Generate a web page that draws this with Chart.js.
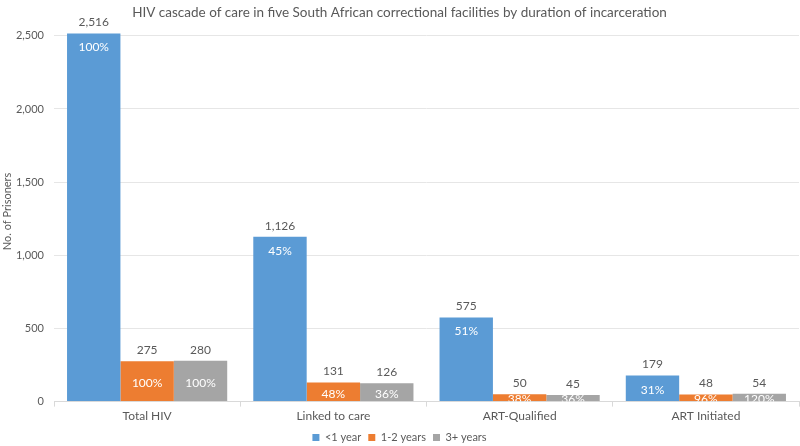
<!DOCTYPE html>
<html><head><meta charset="utf-8">
<script src="https://cdn.jsdelivr.net/npm/chart.js@4/dist/chart.umd.min.js"></script>
<style>html,body{margin:0;padding:0;background:#fff}#wrap{width:800px;height:446px}</style>
</head><body><div id="wrap"><canvas id="c"></canvas></div>
<script>
const categories = ["Total HIV", "Linked to care", "ART-Qualified", "ART Initiated"];
const seriesNames = ["<1 year", "1-2 years", "3+ years"];
const lessThan1 = [2516, 1126, 575, 179];
const oneToTwo = [275, 131, 50, 48];
const threePlus = [280, 126, 45, 54];
const pctLessThan1 = ["100%", "45%", "51%", "31%"];
const pctOneToTwo = ["100%", "48%", "38%", "96%"];
const pctThreePlus = ["100%", "36%", "36%", "120%"];
const yTicks = [0, 500, 1000, 1500, 2000, 2500];

const FONT = "Lato";
const colors = ["#5B9BD5", "#ED7D31", "#A5A5A5"];
const pcts = [pctLessThan1, pctOneToTwo, pctThreePlus];

const labelPlugin = {
  id: 'barLabels',
  afterDatasetsDraw(chart) {
    const ctx = chart.ctx;
    const area = chart.chartArea;
    chart.data.datasets.forEach((ds, di) => {
      const meta = chart.getDatasetMeta(di);
      meta.data.forEach((bar, i) => {
        const v = ds.data[i];
        ctx.save();
        ctx.font = "12px " + FONT;
        ctx.textAlign = 'center';
        ctx.textBaseline = 'middle';
        ctx.fillStyle = '#595959';
        ctx.fillText(v.toLocaleString('en-US'), bar.x, bar.y - 11);
        ctx.restore();
        const h = bar.base - bar.y;
        const py = h < 60 ? (bar.y + bar.base) / 2 + 2 : bar.y + 14;
        ctx.save();
        ctx.beginPath();
        ctx.rect(area.left, area.top - 20, area.right - area.left, area.bottom - area.top + 20);
        ctx.clip();
        ctx.font = "12px " + FONT;
        ctx.textAlign = 'center';
        ctx.textBaseline = 'middle';
        ctx.fillStyle = '#ffffff';
        ctx.fillText(pcts[di][i], bar.x, Math.min(py, area.bottom - 2));
        ctx.restore();
      });
    });
  }
};

new Chart(document.getElementById('c'), {
  type: 'bar',
  data: {
    labels: categories,
    datasets: [
      { label: seriesNames[0], data: lessThan1, backgroundColor: colors[0] },
      { label: seriesNames[1], data: oneToTwo, backgroundColor: colors[1] },
      { label: seriesNames[2], data: threePlus, backgroundColor: colors[2] }
    ]
  },
  options: {
    responsive: true,
    maintainAspectRatio: false,
    animation: false,
    layout: { padding: { left: 0, right: 1, top: 0, bottom: -7 } },
    datasets: { bar: { categoryPercentage: 0.86, barPercentage: 1.0 } },
    plugins: {
      title: {
        display: true,
        text: "HIV cascade of care in five South African correctional facilities by duration of incarceration",
        color: '#595959',
        font: { family: FONT, size: 13.5, weight: 'normal' },
        padding: { top: 5, bottom: 0 }
      },
      legend: {
        position: 'bottom',
        labels: {
          color: '#595959',
          font: { family: FONT, size: 11 },
          boxWidth: 7, boxHeight: 7, padding: 7
        }
      },
      tooltip: { enabled: false }
    },
    scales: {
      x: {
        grid: { offset: true, drawOnChartArea: false, drawTicks: true, tickLength: 5, color: '#d9d9d9' },
        border: { display: true, color: '#d9d9d9' },
        ticks: { color: '#595959', font: { family: FONT, size: 12 }, padding: 2 }
      },
      y: {
        min: 0, max: 2600,
        afterBuildTicks(scale) { scale.ticks = yTicks.map(v => ({ value: v })); },
        afterFit(scale) { scale.width = 54; },
        grid: { color: '#e6e6e6', drawTicks: false },
        border: { display: false },
        ticks: {
          color: '#595959', font: { family: FONT, size: 11 }, padding: 10,
          callback: v => v.toLocaleString('en-US')
        },
        title: {
          display: true, text: 'No. of Prisoners', color: '#595959',
          font: { family: FONT, size: 11 }, padding: { top: 1, bottom: 0 }
        }
      }
    }
  },
  plugins: [labelPlugin]
});
</script></body></html>
